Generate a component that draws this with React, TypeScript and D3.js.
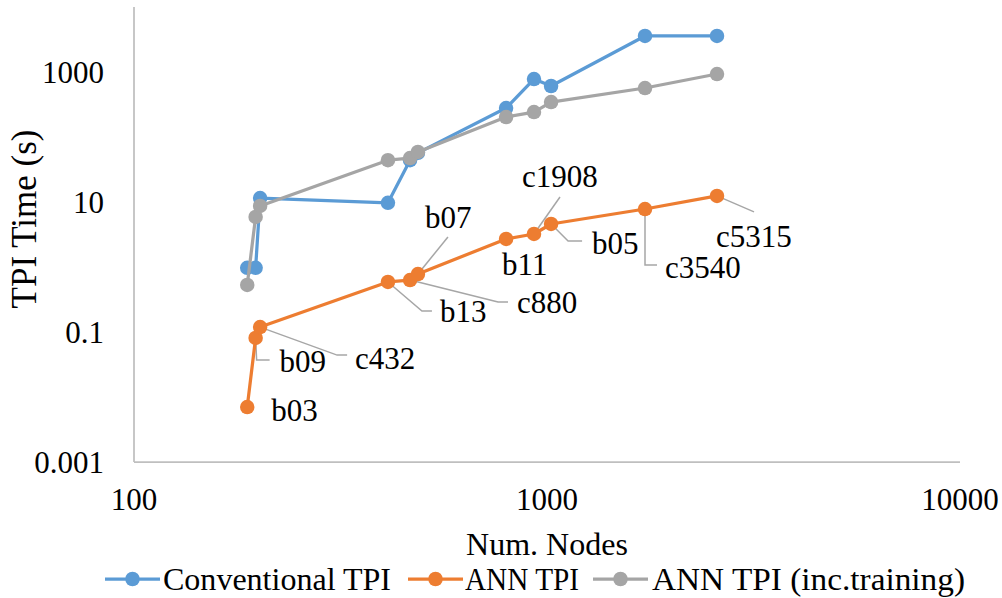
import React from "react";
import * as d3 from "d3";

const circuits = ["b03", "b09", "c432", "b13", "c880", "b07", "b11", "c1908", "b05", "c3540", "c5315"];
const numNodes = [188, 197, 202, 412, 466, 487, 796, 930, 1023, 1727, 2580];
const conventionalTPI = [0.97, 0.97, 11.5, 9.7, 44, 57, 279, 780, 609, 3580, 3580];
const annTPI = [0.007, 0.081, 0.119, 0.588, 0.63, 0.78, 2.7, 3.22, 4.59, 7.8, 12.4];
const annTPITraining = [0.53, 5.9, 8.7, 44, 47.5, 58.8, 203, 242, 345, 567, 931];

const seriesNames = ["Conventional TPI", "ANN TPI", "ANN TPI (inc.training)"];
const xTicks = [100, 1000, 10000];
const xTickLabels = ["100", "1000", "10000"];
const yTicks = [0.001, 0.1, 10, 1000];
const yTickLabels = ["0.001", "0.1", "10", "1000"];

// label layout (pixel offsets from the marker): text start, text centre, leader polyline
const labelLayout: Record<string, { dx: number; dy: number; leader: [number, number][] }> = {
  b03: { dx: 24, dy: 3, leader: [] },
  b09: { dx: 24, dy: 24, leader: [[1, 22], [14, 22]] },
  c432: { dx: 95, dy: 31, leader: [[77, 28], [87, 28]] },
  b13: { dx: 52, dy: 30, leader: [[34, 29], [44, 29]] },
  c880: { dx: 107, dy: 22, leader: [[88, 22], [98, 22]] },
  b07: { dx: 7, dy: -57, leader: [[30, -37]] },
  b11: { dx: -4, dy: 26, leader: [] },
  c1908: { dx: -12, dy: -57, leader: [[26, -37]] },
  b05: { dx: 41, dy: 20, leader: [[17, 17], [31, 17]] },
  c3540: { dx: 20, dy: 58, leader: [[0, 56], [12, 56]] },
  c5315: { dx: -1, dy: 41, leader: [[37, 16]] },
};

const COLORS = ["#5B9BD5", "#ED7D31", "#A5A5A5"];
const FONT = "'Liberation Serif', 'Times New Roman', serif";

export default function App() {
  const W = 1002, H = 598;
  const x = d3.scaleLog().domain([100, 10000]).range([134, 960]);
  const y = d3.scaleLog().domain([0.001, 10000]).range([462, 7]);
  const series = [conventionalTPI, annTPI, annTPITraining];
  const line = d3
    .line<[number, number]>()
    .x((d) => x(d[0]))
    .y((d) => y(d[1]));

  const legendItems = [
    { lx: 105, tx: 163, len: 228 },
    { lx: 408, tx: 465, len: 114 },
    { lx: 593, tx: 652, len: 313 },
  ];

  return (
    <svg
      width={W}
      height={H}
      style={{ position: "absolute", left: 0, top: 0, background: "#fff" }}
      fontFamily={FONT}
    >
      <rect width={W} height={H} fill="#fff" />
      {/* axes */}
      <line x1={134} x2={134} y1={7} y2={462} stroke="#BFBFBF" strokeWidth={1.75} />
      <line x1={134} x2={960} y1={462} y2={462} stroke="#BFBFBF" strokeWidth={1.75} />
      {yTicks.map((t, i) => (
        <text key={"yt" + i} x={104} y={y(t) + 10.5} textAnchor="end" fontSize={31} fill="#000">
          {yTickLabels[i]}
        </text>
      ))}
      {xTicks.map((t, i) => (
        <text key={"xt" + i} x={x(t)} y={510} textAnchor="middle" fontSize={31} fill="#000">
          {xTickLabels[i]}
        </text>
      ))}
      <text x={547} y={555} textAnchor="middle" fontSize={32} textLength={162} lengthAdjust="spacingAndGlyphs" fill="#000">
        Num. Nodes
      </text>
      <text
        transform={`translate(36,219) rotate(-90)`}
        textAnchor="middle"
        fontSize={35}
        fill="#000"
      >
        TPI Time (s)
      </text>

      {/* leader lines */}
      {circuits.map((c, i) => {
        const L = labelLayout[c];
        if (!L || L.leader.length === 0) return null;
        const px = x(numNodes[i]);
        const py = y(annTPI[i]);
        const pts: [number, number][] = [[px, py], ...L.leader.map(([a, b]) => [px + a, py + b] as [number, number])];
        return (
          <polyline
            key={"ld" + c}
            points={pts.map((p) => p.join(",")).join(" ")}
            fill="none"
            stroke="#A6A6A6"
            strokeWidth={1.5}
          />
        );
      })}

      {/* series */}
      {series.map((vals, si) => {
        const pts = numNodes.map((n, i) => [n, vals[i]] as [number, number]);
        return (
          <g key={"s" + si}>
            <path d={line(pts) || ""} fill="none" stroke={COLORS[si]} strokeWidth={3.25} strokeLinejoin="round" />
            {pts.map((p, i) => (
              <circle key={i} cx={x(p[0])} cy={y(p[1])} r={7.25} fill={COLORS[si]} />
            ))}
          </g>
        );
      })}

      {/* data labels */}
      {circuits.map((c, i) => {
        const L = labelLayout[c];
        const px = x(numNodes[i]);
        const py = y(annTPI[i]);
        return (
          <text key={"lb" + c} x={px + L.dx} y={py + L.dy + 10.5} fontSize={31} fill="#000">
            {c}
          </text>
        );
      })}

      {/* legend */}
      {seriesNames.map((name, i) => (
        <g key={"lg" + i}>
          <line
            x1={legendItems[i].lx}
            x2={legendItems[i].lx + 55}
            y1={579}
            y2={579}
            stroke={COLORS[i]}
            strokeWidth={3.25}
          />
          <circle cx={legendItems[i].lx + 27.5} cy={579} r={7.25} fill={COLORS[i]} />
          <text
            x={legendItems[i].tx}
            y={590}
            fontSize={32}
            textLength={legendItems[i].len}
            lengthAdjust="spacingAndGlyphs"
            fill="#000"
          >
            {name}
          </text>
        </g>
      ))}
    </svg>
  );
}
